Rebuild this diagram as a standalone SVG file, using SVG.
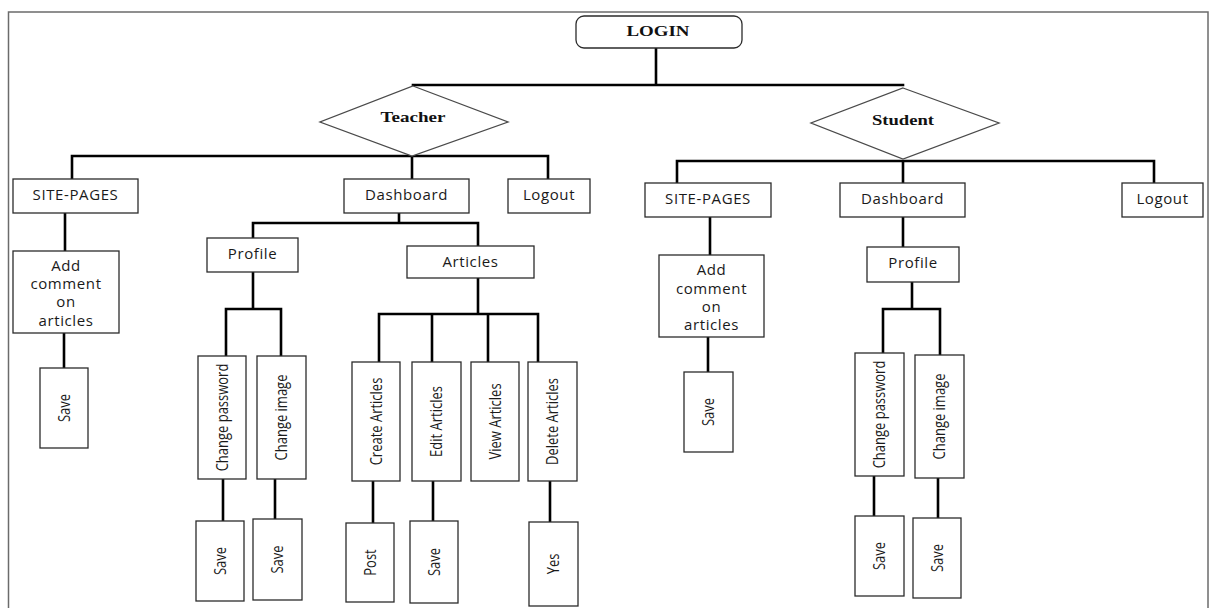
<svg xmlns="http://www.w3.org/2000/svg" width="1216" height="608" viewBox="0 0 1216 608">
  <style>
    .frame { fill: none; stroke: #6b6b6b; stroke-width: 1.5; }
    .box { fill: #ffffff; stroke: #2b2b2b; stroke-width: 1.3; }
    .dia { fill: #ffffff; stroke: #4a4a4a; stroke-width: 1.3; }
    .wire { fill: none; stroke: #000000; stroke-width: 2.6; stroke-linecap: square; }
    .lbl { font-family: "Open Sans", "Noto Sans", sans-serif; font-size: 15px; letter-spacing: 0.6px; fill: #1a1a1a; text-anchor: middle; }
    .vlbl { font-family: "Open Sans", "Noto Sans", sans-serif; font-size: 13px; fill: #1a1a1a; text-anchor: middle; }
    .head { font-family: "Liberation Serif", "Times New Roman", serif; font-size: 15px; font-weight: bold; fill: #111111; text-anchor: middle; }
  </style>

  <rect class="frame" x="8.5" y="12" width="1199.5" height="602"/>

  <!-- connectors -->
  <g id="connectors">
    <path class="wire" d="M656 48 V85 M413 85 H903"/>
    <!-- teacher branch -->
    <path class="wire" d="M72 178 V156 H548 V178 M412 156 V178"/>
    <path class="wire" d="M65 213 V250 M64 333 V368"/>
    <path class="wire" d="M399 213 V223 M253 238 V223 H478 V246"/>
    <path class="wire" d="M253 272 V309 M226 356 V309 H281 V356"/>
    <path class="wire" d="M223 479 V521 M275 479 V519"/>
    <path class="wire" d="M478 278 V314 M379 362 V314 H538 V362 M432 314 V362 M488 314 V362"/>
    <path class="wire" d="M373 481 V523 M433 481 V521 M550 481 V522"/>
    <!-- student branch -->
    <path class="wire" d="M677 183 V161 H1154 V183 M903 161 V183"/>
    <path class="wire" d="M710 217 V255 M708 337 V372"/>
    <path class="wire" d="M903 217 V247 M912 282 V309 M883 353 V309 H940 V355"/>
    <path class="wire" d="M874 476 V516 M938 478 V518"/>
  </g>

  <!-- root -->
  <g id="login">
    <rect class="box" x="576" y="16" width="166" height="32" rx="8"/>
    <text class="head" x="658" y="36" textLength="63" lengthAdjust="spacingAndGlyphs">LOGIN</text>
  </g>

  <!-- teacher -->
  <g id="teacher">
    <polygon class="dia" points="413,86 508,122 412,156 320,122"/>
    <text class="head" x="413" y="122" textLength="65" lengthAdjust="spacingAndGlyphs">Teacher</text>
  </g>
  <g id="t-sitepages">
    <rect class="box" x="13" y="179" width="125" height="34"/>
    <text class="lbl" x="75.5" y="200">SITE-PAGES</text>
  </g>
  <g id="t-dashboard">
    <rect class="box" x="344" y="179" width="125" height="34"/>
    <text class="lbl" x="406.5" y="200">Dashboard</text>
  </g>
  <g id="t-logout">
    <rect class="box" x="508" y="179" width="82" height="34"/>
    <text class="lbl" x="549" y="200">Logout</text>
  </g>
  <g id="t-comment">
    <rect class="box" x="13" y="251" width="106" height="82"/>
    <text class="lbl" x="66" y="271">Add</text>
    <text class="lbl" x="66" y="289">comment</text>
    <text class="lbl" x="66" y="307">on</text>
    <text class="lbl" x="66" y="326">articles</text>
  </g>
  <g id="t-comment-save">
    <rect class="box" x="40" y="368" width="48" height="80"/>
    <text class="vlbl" transform="translate(64,408) scale(1.3,1) rotate(-90)" dy="0.35em">Save</text>
  </g>
  <g id="t-profile">
    <rect class="box" x="207" y="238" width="91" height="34"/>
    <text class="lbl" x="252.5" y="259">Profile</text>
  </g>
  <g id="t-chpass">
    <rect class="box" x="198" y="356" width="48" height="123"/>
    <text class="vlbl" transform="translate(222,417.5) scale(1.3,1) rotate(-90)" dy="0.35em">Change password</text>
  </g>
  <g id="t-chimg">
    <rect class="box" x="257" y="356" width="49" height="123"/>
    <text class="vlbl" transform="translate(281.5,417.5) scale(1.3,1) rotate(-90)" dy="0.35em">Change image</text>
  </g>
  <g id="t-chpass-save">
    <rect class="box" x="196" y="521" width="48" height="80"/>
    <text class="vlbl" transform="translate(220,561) scale(1.3,1) rotate(-90)" dy="0.35em">Save</text>
  </g>
  <g id="t-chimg-save">
    <rect class="box" x="253" y="519" width="49" height="81"/>
    <text class="vlbl" transform="translate(277.5,559.5) scale(1.3,1) rotate(-90)" dy="0.35em">Save</text>
  </g>
  <g id="t-articles">
    <rect class="box" x="407" y="246" width="127" height="32"/>
    <text class="lbl" x="470.5" y="267">Articles</text>
  </g>
  <g id="t-create">
    <rect class="box" x="352" y="362" width="48" height="119"/>
    <text class="vlbl" transform="translate(376,421.5) scale(1.3,1) rotate(-90)" dy="0.35em">Create Articles</text>
  </g>
  <g id="t-edit">
    <rect class="box" x="412" y="362" width="49" height="119"/>
    <text class="vlbl" transform="translate(436.5,421.5) scale(1.3,1) rotate(-90)" dy="0.35em">Edit Articles</text>
  </g>
  <g id="t-view">
    <rect class="box" x="471" y="362" width="48" height="119"/>
    <text class="vlbl" transform="translate(495,421.5) scale(1.3,1) rotate(-90)" dy="0.35em">View Articles</text>
  </g>
  <g id="t-delete">
    <rect class="box" x="528" y="362" width="49" height="119"/>
    <text class="vlbl" transform="translate(552.5,421.5) scale(1.3,1) rotate(-90)" dy="0.35em">Delete Articles</text>
  </g>
  <g id="t-post">
    <rect class="box" x="346" y="523" width="48" height="79"/>
    <text class="vlbl" transform="translate(370,562.5) scale(1.3,1) rotate(-90)" dy="0.35em">Post</text>
  </g>
  <g id="t-edit-save">
    <rect class="box" x="410" y="521" width="48" height="82"/>
    <text class="vlbl" transform="translate(434,562) scale(1.3,1) rotate(-90)" dy="0.35em">Save</text>
  </g>
  <g id="t-yes">
    <rect class="box" x="529" y="522" width="49" height="84"/>
    <text class="vlbl" transform="translate(553.5,564) scale(1.3,1) rotate(-90)" dy="0.35em">Yes</text>
  </g>

  <!-- student -->
  <g id="student">
    <polygon class="dia" points="903,88 999,123 903,159 811,123"/>
    <text class="head" x="903" y="125" textLength="62" lengthAdjust="spacingAndGlyphs">Student</text>
  </g>
  <g id="s-sitepages">
    <rect class="box" x="645" y="183" width="126" height="34"/>
    <text class="lbl" x="708" y="204">SITE-PAGES</text>
  </g>
  <g id="s-dashboard">
    <rect class="box" x="840" y="183" width="125" height="34"/>
    <text class="lbl" x="902.5" y="204">Dashboard</text>
  </g>
  <g id="s-logout">
    <rect class="box" x="1122" y="183" width="81" height="34"/>
    <text class="lbl" x="1162.5" y="204">Logout</text>
  </g>
  <g id="s-comment">
    <rect class="box" x="659" y="255" width="105" height="82"/>
    <text class="lbl" x="711.5" y="275">Add</text>
    <text class="lbl" x="711.5" y="294">comment</text>
    <text class="lbl" x="711.5" y="312">on</text>
    <text class="lbl" x="711.5" y="330">articles</text>
  </g>
  <g id="s-comment-save">
    <rect class="box" x="684" y="372" width="49" height="80"/>
    <text class="vlbl" transform="translate(708.5,412) scale(1.3,1) rotate(-90)" dy="0.35em">Save</text>
  </g>
  <g id="s-profile">
    <rect class="box" x="867" y="247" width="92" height="35"/>
    <text class="lbl" x="913" y="268">Profile</text>
  </g>
  <g id="s-chpass">
    <rect class="box" x="855" y="353" width="49" height="123"/>
    <text class="vlbl" transform="translate(879.5,414.5) scale(1.3,1) rotate(-90)" dy="0.35em">Change password</text>
  </g>
  <g id="s-chimg">
    <rect class="box" x="915" y="355" width="49" height="123"/>
    <text class="vlbl" transform="translate(939.5,416.5) scale(1.3,1) rotate(-90)" dy="0.35em">Change image</text>
  </g>
  <g id="s-chpass-save">
    <rect class="box" x="855" y="516" width="49" height="80"/>
    <text class="vlbl" transform="translate(879.5,556) scale(1.3,1) rotate(-90)" dy="0.35em">Save</text>
  </g>
  <g id="s-chimg-save">
    <rect class="box" x="913" y="518" width="48" height="80"/>
    <text class="vlbl" transform="translate(937,558) scale(1.3,1) rotate(-90)" dy="0.35em">Save</text>
  </g>
</svg>
